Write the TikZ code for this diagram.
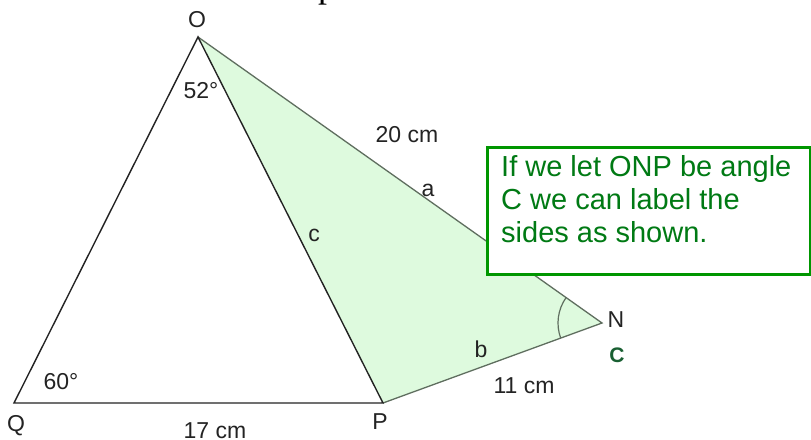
\documentclass[tikz,border=0pt]{standalone}
\usepackage{fontspec}
\setmainfont{Liberation Sans}
\newfontfamily\cutserif{Liberation Serif}
\usetikzlibrary{angles}
\definecolor{sidegreen}{RGB}{222,250,222}
\definecolor{edgegray}{RGB}{95,110,95}
\definecolor{labgray}{RGB}{35,35,35}
\definecolor{boxgreen}{RGB}{0,150,0}
\definecolor{notegreen}{RGB}{0,122,20}
\definecolor{anglegreen}{RGB}{25,95,50}

\begin{document}
\begin{tikzpicture}[x=1pt, y=-1pt,
    lab/.style={font=\fontsize{23}{27}\selectfont, text=labgray, inner sep=0pt},
    side/.style={line width=1.4pt, labgray},
    sidelight/.style={line width=1.3pt, edgegray},
    notebox/.style={draw=boxgreen, line width=3pt, fill=white, inner sep=0pt},
    notetext/.style={font=\fontsize{29}{33}\selectfont, text=notegreen, align=left, inner sep=0pt}]
    \useasboundingbox (0,0) rectangle (811,439);

    % Sommets
    \coordinate (O) at (198,37);
    \coordinate (Q) at (14,403);
    \coordinate (P) at (383,403);
    \coordinate (N) at (602,323);

    % --- Fragment de texte coupé en haut ---
    \node[font=\cutserif\fontsize{36}{40}\selectfont, anchor=base west, inner sep=0pt] (cut) at (318,-2) {p};

    % --- Triangle ONP ombré ---
    \fill[sidegreen] (O) -- (N) -- (P) -- cycle;
    \draw[sidelight] (O) -- (N) -- (P);
    \pic[draw=edgegray, line width=1.2pt, angle radius=44pt] {angle = O--N--P};

    % --- Triangle OQP ---
    \draw[side] (Q) -- (O) -- (P) -- cycle;

    % Sommets
    \node[lab] (labO) at (197,20) {O};
    \node[lab] (labQ) at (16,426) {Q};
    \node[lab] (labP) at (380,422) {P};
    \node[lab] (labN) at (616,320) {N};
    \node[lab, font=\bfseries\fontsize{21}{25}\selectfont, text=anglegreen] (labC) at (617,355) {C};

    % Angles
    \node[lab] (angO) at (201,91) {52°};
    \node[lab] (angQ) at (61,382) {60°};

    % Côtés
    \node[lab] (lenON) at (407,135) {20 cm};
    \node[lab] (lenNP) at (524,386) {11 cm};
    \node[lab] (lenQP) at (215,431) {17 cm};
    \node[lab] (sidea) at (428,190) {a};
    \node[lab] (sideb) at (481,349) {b};
    \node[lab] (sidec) at (314,235) {c};

    % --- Encadré ---
    \node[notebox, minimum width=323pt, minimum height=127pt, anchor=north west] (note) at (486,146) {};
    \node[notetext, anchor=north west] (notetxt) at (501,155) {If we let ONP be angle\\C we can label the\\sides as shown.};
\end{tikzpicture}
\end{document}
